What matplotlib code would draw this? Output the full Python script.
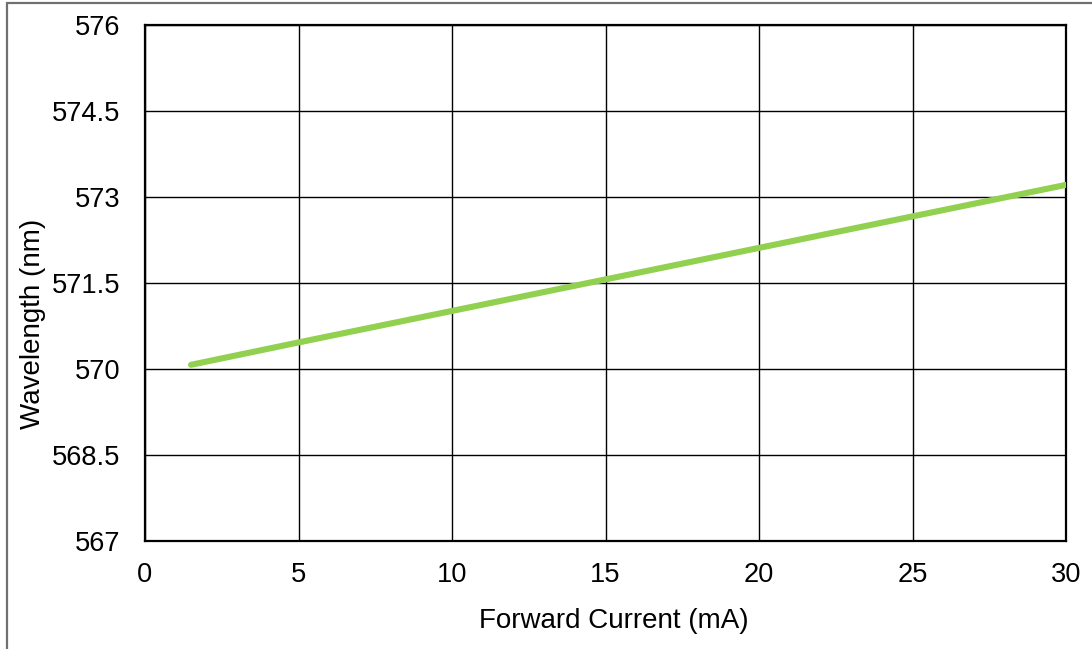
import matplotlib
matplotlib.use("Agg")
import matplotlib.pyplot as plt
from matplotlib.patches import Rectangle

current_ma = [1.5, 5, 10, 15, 20, 25, 30]
wavelength_nm = [570.07, 570.46, 571.01, 571.56, 572.11, 572.66, 573.21]
x_ticks = [0, 5, 10, 15, 20, 25, 30]
y_ticks = [567, 568.5, 570, 571.5, 573, 574.5, 576]
y_tick_labels = ["567", "568.5", "570", "571.5", "573", "574.5", "576"]

plt.rcParams['font.family'] = ['Liberation Sans', 'DejaVu Sans']

fig = plt.figure(figsize=(10.92, 6.49), dpi=100)
ax = fig.add_axes([145/1092, 1 - 540.7/649, (1066 - 145)/1092, (540.7 - 25)/649])

ax.plot(current_ma, wavelength_nm, color='#92D050', lw=4.4, solid_capstyle='round', zorder=3)

ax.set_xlim(0, 30)
ax.set_ylim(567, 576)
ax.set_xticks(x_ticks)
ax.set_yticks(y_ticks)
ax.set_yticklabels(y_tick_labels)
ax.grid(True, color='black', lw=1.0)
ax.set_axisbelow(True)
for s in ax.spines.values():
    s.set_color('black')
    s.set_linewidth(1.6)
ax.tick_params(axis='both', length=0, labelsize=19.6, colors='black')
ax.tick_params(axis='y', pad=18)
ax.tick_params(axis='x', pad=15.5)
ax.set_xlabel('Forward Current (mA)', fontsize=20, labelpad=14)
ax.xaxis.label.set_x((614 - 145) / (1066 - 145))
fig.text(33/1092, 1 - 324/649, 'Wavelength (nm)', fontsize=20, rotation=90,
         ha='center', va='center')

fig.add_artist(Rectangle((7/1092, -0.2), 2.0, 1.2 - 3/649, transform=fig.transFigure,
                         fill=False, edgecolor='#707070', lw=1.6))

fig.savefig('out.png', dpi=100)
